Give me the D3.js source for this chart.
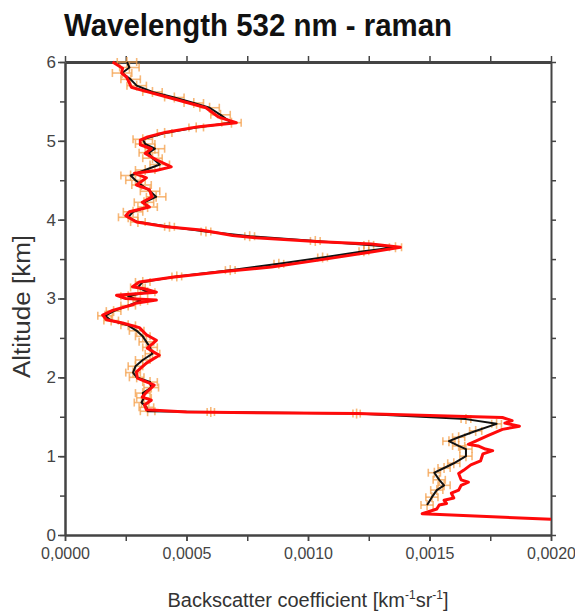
<!DOCTYPE html>
<html>
<head>
<meta charset="utf-8">
<script src="https://cdn.jsdelivr.net/npm/d3@7"></script>
<style>
  body { margin: 0; background: #fff; }
  svg text { font-family: "Liberation Sans", Arial, sans-serif; }
</style>
</head>
<body>
<div id="chart"></div>
<script>
// values in units of 1e-4 km^-1 sr^-1, altitude in km
const UNIT = 1e-4;
const titleText = "Wavelength 532 nm - raman";
const xTicks = [0, 0.0005, 0.0010, 0.0015, 0.0020];
const yTicks = [0, 1, 2, 3, 4, 5, 6];

// red profile [altitude, beta]
const redProfile = [
  [6.00, 1.96], [5.92, 2.37], [5.86, 2.33], [5.81, 2.53], [5.68, 2.73], [5.64, 3.18],
  [5.56, 4.16], [5.49, 4.98], [5.42, 5.80], [5.30, 6.33], [5.23, 7.05], [5.18, 5.51],
  [5.11, 4.16], [5.05, 3.40], [5.01, 3.10], [4.95, 3.10], [4.90, 3.55], [4.84, 3.30],
  [4.76, 3.76], [4.67, 4.37], [4.62, 3.70], [4.59, 2.86], [4.53, 3.35], [4.44, 2.94],
  [4.38, 3.47], [4.29, 3.59], [4.22, 3.18], [4.16, 3.47], [4.10, 2.65], [4.05, 2.50],
  [3.97, 2.94], [3.91, 4.16], [3.87, 5.60], [3.80, 6.90], [3.77, 7.84], [3.72, 10.5],
  [3.69, 12.6], [3.65, 13.8], [3.59, 12.6], [3.49, 10.5], [3.40, 8.5], [3.34, 6.45],
  [3.27, 4.41], [3.21, 3.06], [3.15, 2.78], [3.12, 3.30], [3.08, 3.76], [3.04, 2.12],
  [3.00, 2.50], [2.98, 3.76], [2.94, 2.90], [2.92, 2.78], [2.85, 1.96], [2.79, 1.55],
  [2.73, 1.71], [2.69, 2.37], [2.63, 3.06], [2.54, 3.35], [2.47, 3.76], [2.37, 3.39],
  [2.28, 3.88], [2.18, 3.35], [2.07, 2.94], [1.99, 2.98], [1.90, 3.67], [1.81, 3.35],
  [1.75, 3.18], [1.71, 3.55], [1.65, 3.27], [1.59, 3.35], [1.56, 5.0], [1.54, 12.0],
  [1.49, 18.0], [1.45, 18.4], [1.42, 18.1], [1.38, 18.7], [1.34, 18.0], [1.26, 17.4],
  [1.19, 16.9], [1.15, 16.6], [1.13, 17.0], [1.09, 17.3], [1.07, 17.6], [1.03, 17.2],
  [0.94, 17.1], [0.89, 16.7], [0.82, 16.4], [0.78, 16.2], [0.70, 16.3], [0.67, 16.6],
  [0.63, 16.3], [0.57, 16.2], [0.53, 15.9], [0.47, 16.0], [0.44, 15.6], [0.40, 15.7],
  [0.38, 15.4], [0.33, 15.3], [0.27, 14.7], [0.20, 20.0]
];

// black profile [altitude, beta, error]
const blackProfile = [
  [6.00, 2.55, 0.4], [5.93, 2.65, 0.4], [5.86, 2.35, 0.4], [5.78, 2.70, 0.4], [5.70, 2.95, 0.4],
  [5.62, 3.60, 0.4], [5.55, 4.50, 0.4], [5.48, 5.30, 0.4], [5.42, 5.95, 0.4], [5.33, 6.40, 0.4],
  [5.23, 6.85, 0.4], [5.17, 5.40, 0.3], [5.10, 4.10, 0.3], [5.02, 3.20, 0.4], [4.96, 3.30, 0.4],
  [4.90, 3.70, 0.4], [4.85, 3.45, 0.4], [4.78, 3.60, 0.4], [4.70, 3.90, 0.4], [4.63, 3.30, 0.4],
  [4.56, 2.70, 0.4], [4.50, 2.90, 0.4], [4.44, 3.15, 0.4], [4.36, 3.50, 0.4], [4.29, 3.75, 0.4],
  [4.22, 3.25, 0.4], [4.16, 3.40, 0.4], [4.10, 2.80, 0.4], [4.03, 2.60, 0.4], [3.97, 3.00, 0.3],
  [3.91, 4.30, 0.2], [3.85, 5.80, 0.2], [3.79, 7.60, 0.2], [3.73, 10.3, 0.2], [3.68, 12.5, 0.2],
  [3.65, 13.6, 0.25], [3.60, 12.3, 0.2], [3.52, 10.6, 0.2], [3.44, 8.8, 0.2], [3.36, 6.8, 0.2],
  [3.28, 4.6, 0.2], [3.21, 3.2, 0.3], [3.14, 3.0, 0.3], [3.08, 3.4, 0.3], [3.03, 2.6, 0.3],
  [2.97, 3.1, 0.3], [2.91, 2.6, 0.3], [2.84, 2.0, 0.3], [2.78, 1.65, 0.3], [2.72, 1.9, 0.3],
  [2.66, 2.6, 0.3], [2.59, 2.95, 0.3], [2.52, 3.2, 0.3], [2.45, 3.35, 0.3], [2.38, 3.5, 0.3],
  [2.30, 3.6, 0.3], [2.22, 3.2, 0.3], [2.14, 2.9, 0.3], [2.06, 2.8, 0.3], [2.00, 2.95, 0.3],
  [1.94, 3.5, 0.3], [1.87, 3.55, 0.3], [1.80, 3.2, 0.3], [1.74, 3.25, 0.3], [1.68, 3.15, 0.3],
  [1.62, 3.35, 0.3], [1.57, 3.4, 0.3], [1.56, 6.0, 0.15], [1.54, 12.0, 0.15], [1.47, 16.5, 0.2],
  [1.41, 17.76, 0.2], [1.32, 16.9, 0.25], [1.24, 16.2, 0.25], [1.19, 15.8, 0.25], [1.13, 16.2, 0.25],
  [1.09, 16.5, 0.25], [1.00, 16.5, 0.25], [0.91, 16.0, 0.25], [0.85, 15.6, 0.25], [0.79, 15.2, 0.25],
  [0.70, 15.4, 0.25], [0.63, 15.6, 0.25], [0.57, 15.3, 0.25], [0.48, 15.1, 0.25], [0.38, 14.9, 0.25]
];

const W = 575, H = 612;
const margin = { top: 62, right: 24, bottom: 77, left: 65 };
const width = W - margin.left - margin.right;
const height = H - margin.top - margin.bottom;

const svg = d3.select("#chart").append("svg")
  .attr("width", W).attr("height", H);

svg.append("text")
  .attr("x", 258).attr("y", 36)
  .attr("text-anchor", "middle")
  .attr("font-size", 31).attr("font-weight", "bold")
  .attr("textLength", 388).attr("lengthAdjust", "spacingAndGlyphs")
  .attr("fill", "#111")
  .text(titleText);

const g = svg.append("g").attr("transform", `translate(${margin.left},${margin.top})`);

const x = d3.scaleLinear().domain([0, 0.002]).range([0, width]);
const y = d3.scaleLinear().domain([0, 6]).range([height, 0]);

const locale = d3.formatLocale({ decimal: ",", thousands: ".", grouping: [3], currency: ["", ""] });
const fmtX = locale.format(".4f");

// minor ticks
const minorX = d3.range(0, 0.002001, 0.00025);
const minorY = d3.range(0, 6.01, 0.5);

function styleAxis(sel, w) {
  sel.select(".domain").attr("stroke", "#444").attr("stroke-width", w);
  sel.selectAll(".tick line").attr("stroke", "#444").attr("stroke-width", 1.5);
}

g.append("g").attr("transform", `translate(0,${height})`)
  .call(d3.axisBottom(x).tickValues(minorX).tickSize(6).tickFormat("").tickSizeOuter(0))
  .call(s => styleAxis(s, 2));
g.append("g").attr("transform", `translate(0,${height})`)
  .call(d3.axisBottom(x).tickValues(xTicks).tickSize(6).tickFormat(fmtX).tickSizeOuter(0))
  .call(s => styleAxis(s, 2))
  .call(s => s.selectAll("text").attr("font-size", 16).attr("fill", "#444").attr("dy", "0.95em")
    .attr("font-family", "'Liberation Sans', Arial, sans-serif"));

g.append("g")
  .call(d3.axisTop(x).tickValues(minorX).tickSize(6).tickFormat("").tickSizeOuter(0))
  .call(s => styleAxis(s, 3));

g.append("g")
  .call(d3.axisLeft(y).tickValues(minorY).tickSize(5).tickFormat("").tickSizeOuter(0))
  .call(s => styleAxis(s, 2));
g.append("g")
  .call(d3.axisLeft(y).tickValues(yTicks).tickSize(7).tickFormat(d3.format("d")).tickSizeOuter(0))
  .call(s => styleAxis(s, 2))
  .call(s => s.selectAll("text").attr("font-size", 17).attr("fill", "#444").attr("x", -9)
    .attr("font-family", "'Liberation Sans', Arial, sans-serif"));

g.append("g").attr("transform", `translate(${width},0)`)
  .call(d3.axisRight(y).tickValues(minorY).tickSize(5).tickFormat("").tickSizeOuter(0))
  .call(s => styleAxis(s, 2));

// error bars
const eb = g.append("g").attr("stroke", "#f4a04c").attr("stroke-opacity", 0.75).attr("stroke-width", 1.6);
blackProfile.forEach(d => {
  const cy = y(d[0]);
  const x0 = x((d[1] - d[2]) * UNIT), x1 = x((d[1] + d[2]) * UNIT);
  eb.append("line").attr("x1", x0).attr("x2", x1).attr("y1", cy).attr("y2", cy);
  eb.append("line").attr("x1", x0).attr("x2", x0).attr("y1", cy - 4).attr("y2", cy + 4);
  eb.append("line").attr("x1", x1).attr("x2", x1).attr("y1", cy - 4).attr("y2", cy + 4);
  eb.append("line").attr("x1", x(d[1] * UNIT)).attr("x2", x(d[1] * UNIT)).attr("y1", cy - 5).attr("y2", cy + 5);
});

const line = d3.line().x(d => x(d[1] * UNIT)).y(d => y(d[0])).curve(d3.curveLinear);

g.append("path").datum(blackProfile)
  .attr("fill", "none").attr("stroke", "#111").attr("stroke-width", 2)
  .attr("stroke-linejoin", "round").attr("d", line);

g.append("path").datum(redProfile)
  .attr("fill", "none").attr("stroke", "#ff0a0a").attr("stroke-width", 3)
  .attr("stroke-linejoin", "round").attr("d", line);

// axis titles
svg.append("text")
  .attr("transform", `translate(30,${margin.top + height / 2 + 8}) rotate(-90)`)
  .attr("text-anchor", "middle")
  .attr("font-size", 23).attr("fill", "#333")
  .attr("textLength", 143).attr("lengthAdjust", "spacingAndGlyphs")
  .text("Altitude [km]");

const xt = svg.append("text")
  .attr("x", 308).attr("y", 607)
  .attr("text-anchor", "middle")
  .attr("font-size", 20).attr("fill", "#333");
xt.append("tspan").text("Backscatter coefficient [km");
xt.append("tspan").attr("font-size", 12).attr("dy", -8).text("-1");
xt.append("tspan").attr("dy", 8).text("sr");
xt.append("tspan").attr("font-size", 12).attr("dy", -8).text("-1");
xt.append("tspan").attr("dy", 8).text("]");
</script>
</body>
</html>
